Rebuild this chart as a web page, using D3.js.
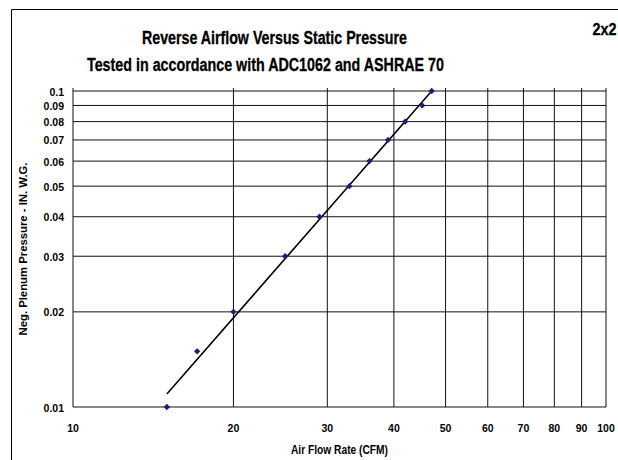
<!DOCTYPE html>
<html>
<head>
<meta charset="utf-8">
<script src="https://cdn.jsdelivr.net/npm/d3@7"></script>
<style>
  body { margin: 0; background: #fff; }
  text { font-family: "Liberation Sans", Arial, sans-serif; font-weight: bold; fill: #000; }
</style>
</head>
<body>
<div id="viz"></div>
<script>
// measured points (CFM vs in. w.g.)
var flowCFM  = [15, 17.1, 20, 25, 29, 33, 36, 39, 42, 45.2, 47.1];
var pressure = [0.01, 0.015, 0.02, 0.03, 0.04, 0.05, 0.06, 0.07, 0.08, 0.09, 0.1];

// power trend line end points
var trendCFM = [15, 47.1];
var trendPressure = [0.011, 0.1];

// tick labels
var xTicks = [10, 20, 30, 40, 50, 60, 70, 80, 90, 100];
var yTicks = [0.01, 0.02, 0.03, 0.04, 0.05, 0.06, 0.07, 0.08, 0.09, 0.1];

var svg = d3.select('#viz').append('svg')
  .attr('width', 618)
  .attr('height', 460);

// outer frame (top and left only visible)
svg.append('path')
  .attr('d', 'M11.5,460 L11.5,9.5 L618,9.5')
  .attr('style', 'fill: none; stroke: #000; stroke-width: 1px;');

// fixed-width text helper (the original uses a narrow bold face)
function label(txt, cx, by, size, len) {
  return svg.append('text')
    .attr('x', cx).attr('y', by)
    .attr('text-anchor', 'middle')
    .attr('font-size', size)
    .attr('textLength', len)
    .attr('lengthAdjust', 'spacingAndGlyphs')
    .text(txt);
}

// titles
label('Reverse Airflow Versus Static Pressure', 274.5, 43.5, '18px', 265)
  .attr('style', 'stroke: #000; stroke-width: 0.3px;');
label('Tested in accordance with ADC1062 and ASHRAE 70', 265.5, 70.5, '18px', 357)
  .attr('style', 'stroke: #000; stroke-width: 0.3px;');
label('2x2', 604.5, 35, '16px', 24)
  .attr('style', 'stroke: #000; stroke-width: 0.3px;');

// scales
var x = d3.scaleLog().domain([10, 100]).range([73, 606]);
var y = d3.scaleLog().domain([0.01, 0.1]).range([407, 91]);

var grid = svg.append('g').attr('id', 'grid');

// horizontal gridlines
grid.selectAll('.hline')
  .data(yTicks).enter()
  .append('line')
  .attr('x1', x(10)).attr('x2', x(100))
  .attr('y1', function(d) { return y(d); })
  .attr('y2', function(d) { return y(d); })
  .attr('style', 'stroke: #111; stroke-width: 1px;');

// vertical gridlines
grid.selectAll('.vline')
  .data(xTicks).enter()
  .append('line')
  .attr('y1', y(0.01)).attr('y2', y(0.1) - 3)
  .attr('x1', function(d) { return x(d); })
  .attr('x2', function(d) { return x(d); })
  .attr('style', 'stroke: #111; stroke-width: 1px;');

// y tick labels
svg.selectAll('.ylab')
  .data(yTicks).enter()
  .append('text')
  .attr('x', 64)
  .attr('y', function(d) { return y(d) + 4.5; })
  .attr('text-anchor', 'end')
  .attr('font-size', '10.5px')
  .text(function(d) { return d3.format('')(d); });

// x tick labels
svg.selectAll('.xlab')
  .data(xTicks).enter()
  .append('text')
  .attr('x', function(d) { return x(d); })
  .attr('y', 432)
  .attr('text-anchor', 'middle')
  .attr('font-size', '10.5px')
  .text(function(d) { return d; });

// axis titles
label('Air Flow Rate (CFM)', 339.5, 454, '12px', 97);
svg.append('text')
  .attr('transform', 'translate(27,' + ((y(0.01) + y(0.1)) / 2) + ') rotate(-90)')
  .attr('text-anchor', 'middle')
  .attr('font-size', '11px')
  .attr('textLength', 173)
  .attr('lengthAdjust', 'spacingAndGlyphs')
  .text('Neg. Plenum Pressure - IN. W.G.');

// trend line
var line = d3.line()
  .x(function(d) { return x(d[0]); })
  .y(function(d) { return y(d[1]); });
svg.append('path')
  .datum(d3.zip(trendCFM, trendPressure))
  .attr('d', line)
  .attr('style', 'fill: none; stroke: #000; stroke-width: 1.6px;');

// data markers
svg.selectAll('.pt')
  .data(d3.zip(flowCFM, pressure)).enter()
  .append('path')
  .attr('d', d3.symbol().type(d3.symbolSquare).size(20))
  .attr('transform', function(d) { return 'translate(' + x(d[0]) + ',' + y(d[1]) + ') rotate(45)'; })
  .attr('fill', '#1c1c80');
</script>
</body>
</html>
